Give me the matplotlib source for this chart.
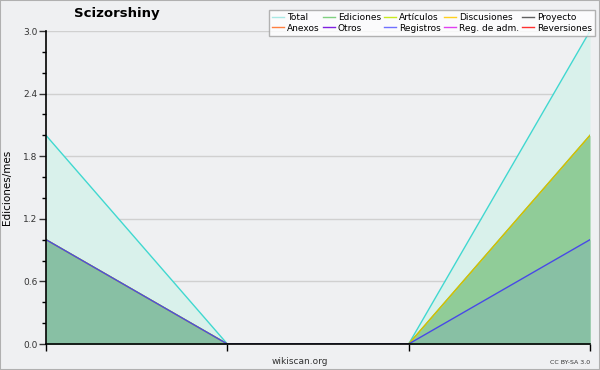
import matplotlib
matplotlib.use('Agg')
import matplotlib.pyplot as plt
from matplotlib.ticker import MultipleLocator

plt.rcParams['font.family'] = ['DejaVu Sans']

# datos (ediciones/mes)
meses = [0, 1, 2, 3]
total = [2, 0, 0, 3]
ediciones = [1, 0, 0, 2]
articulos = [1, 0, 0, 2]
registros = [1, 0, 0, 1]

LEYENDA = ['Total', 'Ediciones', 'Artículos', 'Discusiones', 'Proyecto',
           'Anexos', 'Otros', 'Registros', 'Reg. de adm.', 'Reversiones']
COLORES = ['#a8e8e4', '#80d080', '#c8e820', '#ffd020', '#606060',
           '#ff8040', '#8020e0', '#7070ff', '#e040f0', '#ff3030']

BG = '#eff0f2'
fig = plt.figure(figsize=(6, 3.7), dpi=100, facecolor=BG)
fig.patches.append(plt.Rectangle((0, 0), 1, 1, transform=fig.transFigure,
                                 fill=False, edgecolor='#b0b0b0', linewidth=1.5))
ax = fig.add_axes([46 / 600, 26 / 370, 544 / 600, 313 / 370])
ax.set_facecolor(BG)

ax.fill_between(meses, total, color='#d9f1eb', linewidth=0, zorder=1)
ax.fill_between(meses, ediciones, color='#90cc98', linewidth=0, zorder=2)
ax.fill_between(meses, registros, color='#88c0a4', linewidth=0, zorder=3)
ax.plot(meses, total, color='#40d8d0', linewidth=1, zorder=5)
ax.plot(meses, ediciones, color='#70c070', linewidth=1, zorder=5)
ax.plot(meses, articulos, color='#d8c000', linewidth=1, zorder=6)
ax.plot(meses, registros, color='#4848e8', linewidth=1, zorder=7)

ax.set_xlim(0, 3)
ax.set_ylim(0, 3)
ax.set_xticks(meses)
ax.set_xticklabels([])
ax.yaxis.set_major_locator(MultipleLocator(0.6))
ax.yaxis.set_minor_locator(MultipleLocator(0.2))
ax.yaxis.set_major_formatter(matplotlib.ticker.FormatStrFormatter('%.1f'))
ax.tick_params(axis='y', which='major', labelsize=6.5, length=5, width=1, pad=1, colors='#333333')
ax.tick_params(axis='y', which='minor', length=3, width=1)
ax.tick_params(axis='x', length=5, width=1)
ax.grid(axis='y', which='major', color='#d0d0d0', linewidth=1, zorder=0)
ax.set_axisbelow(True)
for s in ['top', 'right']:
    ax.spines[s].set_visible(False)
for s in ['left', 'bottom']:
    ax.spines[s].set_linewidth(1.2)
    ax.spines[s].set_zorder(10)
ax.set_ylabel('Ediciones/mes', fontsize=7.5, labelpad=8)

fig.text(117 / 600, 1 - 14 / 370, 'Scizorshiny', fontsize=9.5, fontweight='bold',
         ha='center', va='center')
fig.text(300 / 600, 8 / 370, 'wikiscan.org', fontsize=6.5, ha='center', va='center', color='#333333')
fig.text(590 / 600, 8 / 370, 'CC BY-SA 3.0', fontsize=4.5, ha='right', va='center', color='#333333')

handles = [plt.Line2D([], [], color=c, linewidth=1) for c in COLORES]
orden = [0, 5, 1, 6, 2, 7, 3, 8, 4, 9]
leg = fig.legend([handles[i] for i in orden], [LEYENDA[i] for i in orden], ncol=5,
                 loc='upper right', bbox_to_anchor=(595 / 600, 1 - 10 / 370),
                 fontsize=6.5, frameon=True, fancybox=False, edgecolor='#a0a0a0',
                 handlelength=1.3, handletextpad=0.35, columnspacing=0.35,
                 labelspacing=0.15, borderpad=0.35, borderaxespad=0)
leg.get_frame().set_linewidth(1)
leg.get_frame().set_facecolor('white')

fig.savefig('out.png', dpi=100, facecolor=BG)
